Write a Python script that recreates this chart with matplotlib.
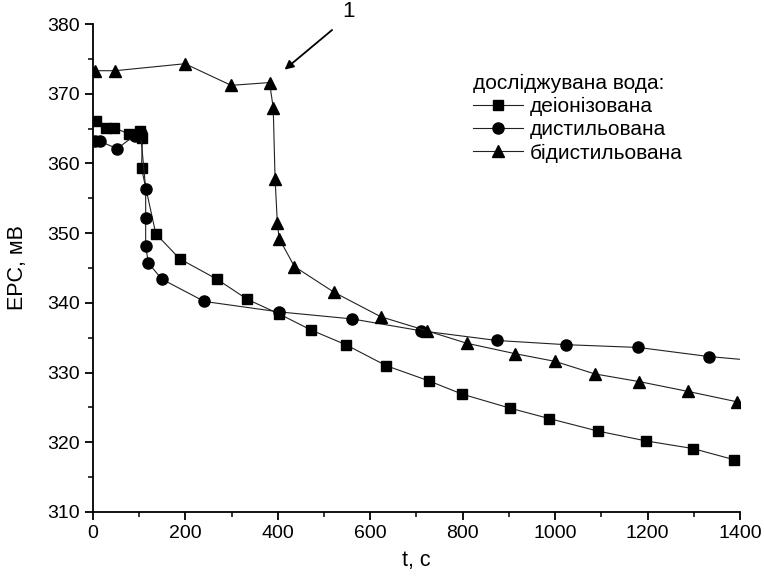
import matplotlib
matplotlib.use('Agg')
import matplotlib.pyplot as plt
from matplotlib.ticker import MultipleLocator

plt.rcParams['font.family'] = ['Liberation Sans', 'DejaVu Sans']
plt.rcParams['font.size'] = 14

# деіонізована (squares)
t_deion = [6, 28, 46, 79, 102, 107, 105, 136, 188, 268, 334, 403, 472, 547, 634, 727, 799, 902, 987, 1093, 1196, 1298, 1387]
v_deion = [366.1, 365.1, 365.1, 364.2, 364.7, 363.7, 359.3, 349.9, 346.3, 343.4, 340.5, 338.4, 336.1, 334.0, 331.0, 328.8, 326.9, 324.9, 323.4, 321.6, 320.2, 319.1, 317.5]

# дистильована (circles); last point is line end only
t_dist = [5, 15, 52, 90, 103, 114, 114, 114, 120, 149, 241, 403, 560, 709, 874, 1023, 1180, 1332, 1400]
v_dist = [363.2, 363.2, 362.1, 364.0, 364.3, 356.4, 352.2, 348.1, 345.7, 343.4, 340.2, 338.7, 337.7, 336.0, 334.6, 334.0, 333.6, 332.3, 331.9]

# бідистильована (triangles)
t_bid = [4, 48, 199, 299, 382, 390, 394, 399, 403, 436, 522, 623, 722, 809, 914, 1000, 1086, 1182, 1287, 1394]
v_bid = [373.3, 373.3, 374.3, 371.2, 371.6, 368.0, 357.8, 351.4, 349.2, 345.2, 341.5, 338.0, 336.0, 334.2, 332.7, 331.6, 329.8, 328.7, 327.3, 325.8]

fig = plt.figure(figsize=(7.64, 5.77), dpi=100)
ax = fig.add_axes([0.1217, 0.1127, 0.8469, 0.8457])

line_kw = dict(color='#222222', linewidth=0.8)
ax.plot(t_deion, v_deion, marker='s', markersize=7, mfc='black', mec='black',
        label='деіонізована', **line_kw)
ax.plot(t_dist, v_dist, marker='o', markersize=8, mfc='black', mec='black',
        markevery=list(range(len(t_dist) - 1)), label='дистильована', **line_kw)
ax.plot(t_bid, v_bid, marker='^', markersize=8.5, mfc='black', mec='black',
        label='бідистильована', **line_kw)

ax.set_xlim(0, 1400)
ax.set_ylim(310, 380)
ax.xaxis.set_major_locator(MultipleLocator(200))
ax.xaxis.set_minor_locator(MultipleLocator(100))
ax.yaxis.set_major_locator(MultipleLocator(10))
ax.yaxis.set_minor_locator(MultipleLocator(5))

for s in ['top', 'right']:
    ax.spines[s].set_visible(False)
for s in ['left', 'bottom']:
    ax.spines[s].set_linewidth(1.3)
ax.tick_params(which='major', direction='out', length=6, width=1.3, labelsize=14)
ax.tick_params(which='minor', direction='out', length=3.5, width=1.1)

ax.set_xlabel('t, c', fontsize=15.5, labelpad=6)
ax.set_ylabel('EPC, мВ', fontsize=15.5, labelpad=14)

ax.annotate('', xy=(410, 373.2), xytext=(522, 379.4),
            arrowprops=dict(arrowstyle='-|>', color='black', lw=1.3, mutation_scale=13),
            annotation_clip=False)
ax.text(552, 380.3, '1', fontsize=16, ha='center', va='bottom', clip_on=False)

leg = ax.legend(title='досліджувана вода:', loc='upper left', bbox_to_anchor=(0.575, 0.915),
                frameon=False, handlelength=2.4, handletextpad=0.3, labelspacing=0.2,
                alignment='left', borderaxespad=0, title_fontsize=15, fontsize=15)

fig.savefig('out.png', dpi=100)
